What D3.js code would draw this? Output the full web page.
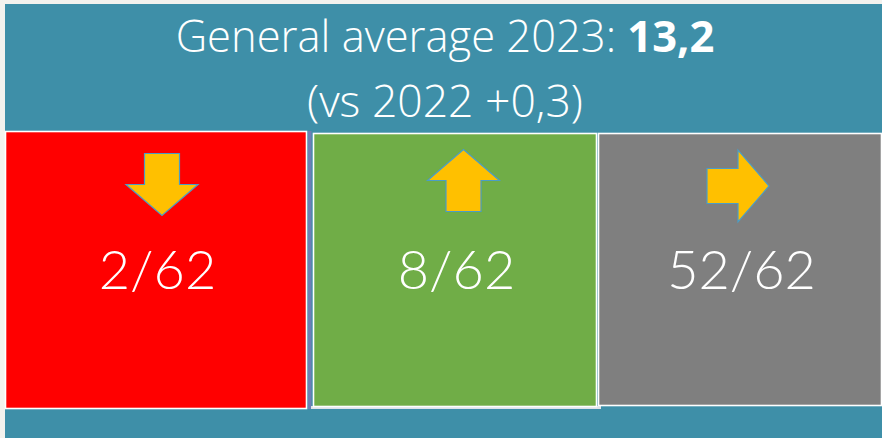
<!DOCTYPE html>
<html><head><meta charset="utf-8">
<script src="https://cdn.jsdelivr.net/npm/d3@7"></script>
<style>html,body{margin:0;padding:0;background:#f3f2ee;}svg{display:block;}</style>
</head><body>
<script>
// ---- data ----
const categories = ["down", "up", "stable"];
const counts = [2, 8, 52];
const total = 62;
const titleYear = "2023";
const titleAverage = "13,2";
const compareYear = "2022";
const compareDelta = "+0,3";
const panelColors = ["#ff0000", "#70ad47", "#7f7f7f"];
const arrowAngles = [90, -90, 0]; // direction of arrows (degrees)

// ---- layout ----
const W = 882, H = 438;
const svg = d3.select("body").append("svg").attr("width", W).attr("height", H);
const FONT = "Lato, 'Open Sans', sans-serif";
const TFONT = "'Open Sans', Lato, sans-serif";

// teal background
svg.append("rect").attr("x", 5).attr("y", 4).attr("width", W - 5).attr("height", H - 4).attr("fill", "#3e8fa8");

// panel geometry
const panelEdges = [[5, 307, 131, 409], [313, 597, 133, 407], [598, 882, 133, 406]];
const x = d3.scaleOrdinal().domain(categories).range(panelEdges.map(e => e[0]));
const x2 = d3.scaleOrdinal().domain(categories).range(panelEdges.map(e => e[1]));

// separator line between red & green
svg.append("rect").attr("x", 308).attr("y", 131).attr("width", 3.5).attr("height", 278).attr("fill", "#6e7fb4");
svg.append("rect").attr("x", 311).attr("y", 406).attr("width", 290).attr("height", 3).attr("fill", "#dfe3ea");

const g = svg.selectAll("g.panel").data(categories).join("g").attr("class", "panel");
g.append("rect")
  .attr("x", (d, i) => x(d) + 0.5)
  .attr("y", (d, i) => panelEdges[i][2] + 0.5)
  .attr("width", (d, i) => x2(d) - x(d) - 1)
  .attr("height", (d, i) => panelEdges[i][3] - panelEdges[i][2] - 1)
  .attr("fill", (d, i) => panelColors[i])
  .attr("stroke", "#ffffff").attr("stroke-width", 1.6);

// arrows
function arrowPath() {
  const L = 62, sh = 17.5, hh = 36, hl = 31;
  const p = d3.path();
  const x0 = -L / 2, xb = L / 2 - hl, xt = L / 2;
  p.moveTo(x0, -sh); p.lineTo(xb, -sh); p.lineTo(xb, -hh); p.lineTo(xt, 0);
  p.lineTo(xb, hh); p.lineTo(xb, sh); p.lineTo(x0, sh); p.closePath();
  return p.toString();
}
const arrowCenters = [[162, 184.5], [463.5, 180.5], [738, 186]];
g.append("path")
  .attr("d", arrowPath())
  .attr("transform", (d, i) => `translate(${arrowCenters[i][0]},${arrowCenters[i][1]}) rotate(${arrowAngles[i]})`)
  .attr("fill", "#ffc000").attr("stroke", "#4b9dc6").attr("stroke-width", 1.2);

// numbers
g.append("text")
  .attr("x", (d, i) => (x(d) + x2(d)) / 2 + 1.5)
  .attr("y", 289)
  .attr("text-anchor", "middle")
  .attr("font-family", FONT).attr("font-weight", 300)
  .attr("font-size", 54).attr("fill", "#ffffff")
  .text((d, i) => `${counts[i]}/${total}`);

// title
const t1 = svg.append("text").attr("x", 445).attr("y", 52).attr("text-anchor", "middle")
  .attr("font-family", TFONT).attr("font-weight", 300).attr("font-size", 43.5).attr("fill", "#ffffff");
t1.append("tspan").text(`General average ${titleYear}: `);
t1.append("tspan").attr("font-weight", 700).text(titleAverage);

svg.append("text").attr("x", 445).attr("y", 117).attr("text-anchor", "middle")
  .attr("font-family", TFONT).attr("font-weight", 300).attr("font-size", 44.5).attr("fill", "#ffffff")
  .text(`(vs ${compareYear} ${compareDelta})`);
</script>
</body></html>
